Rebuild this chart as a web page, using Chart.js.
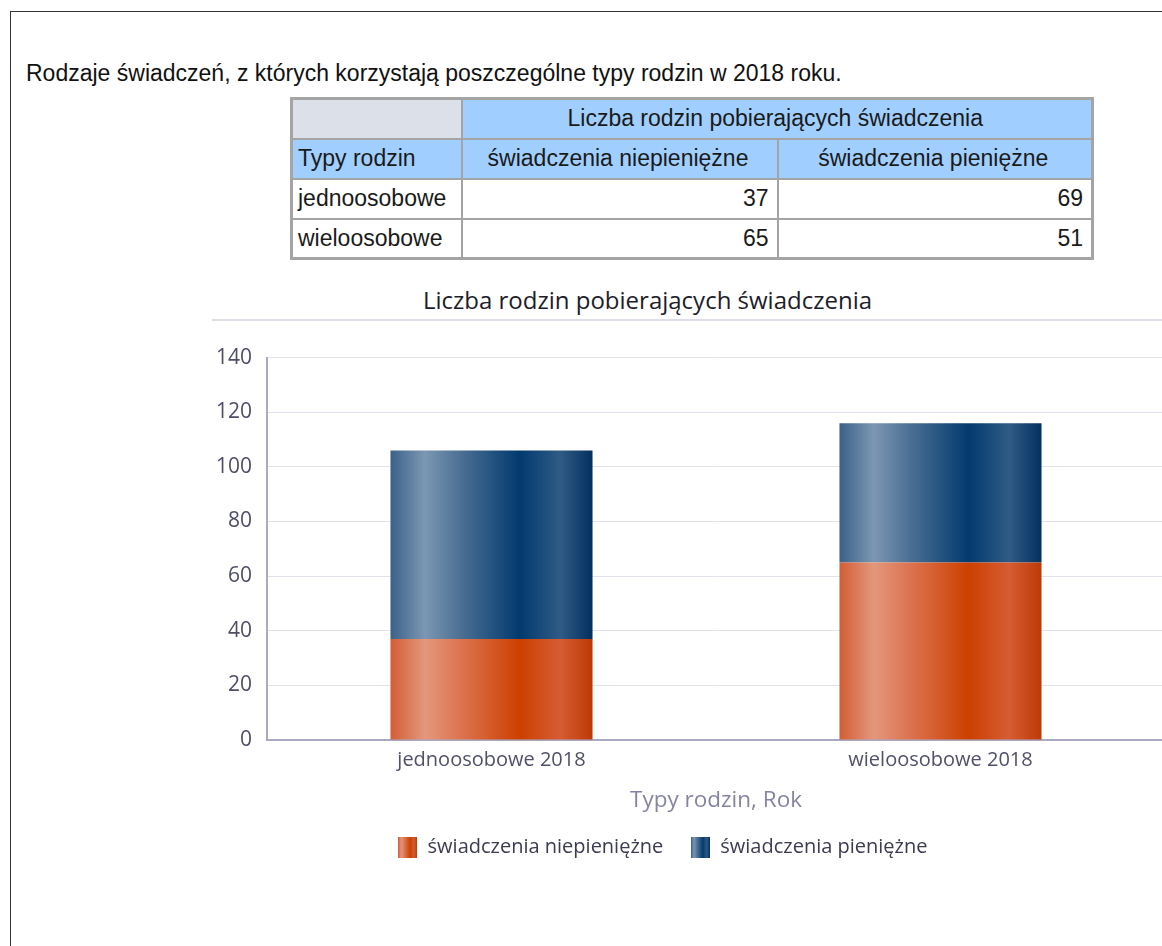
<!DOCTYPE html>
<html lang="pl">
<head>
<meta charset="utf-8">
<title>Liczba rodzin pobierających świadczenia</title>
<script src="https://cdn.jsdelivr.net/npm/chart.js@4.4.1/dist/chart.umd.min.js"></script>
<style>
  html, body { margin: 0; padding: 0; background: #fff; overflow: hidden; }
  body { width: 1162px; height: 946px; position: relative; }
  #frame { position: absolute; left: 10px; top: 11px; width: 2000px; height: 2000px;
           border-left: 1px solid #333; border-top: 1px solid #333; }
  #heading { position: absolute; left: 26px; top: 60px; font: 23px "Liberation Sans", Arial, sans-serif;
             line-height: 26px; color: #111; white-space: nowrap; }
  #tbl { position: absolute; left: 290px; top: 97px; border-collapse: collapse; table-layout: fixed;
         border: 3px solid #a4a4a4; font: 23px "Liberation Sans", Arial, sans-serif; color: #1a1a1a; }
  #tbl td, #tbl th { border: 2px solid #a4a4a4; height: 40px; box-sizing: border-box; padding: 0 8px 0 5px;
                     font-weight: normal; white-space: nowrap; }
  #tbl th { background: #a0cfff; text-align: center; }
  #tbl th.corner { background: #dce0e8; }
  #tbl th.rowhead { text-align: left; }
  #tbl td { background: #fff; text-align: right; }
  #tbl td.label { text-align: left; }
  #chartTitle { position: absolute; left: 212px; top: 286px; width: 871px; text-align: center;
                font: 24px "Open Sans", sans-serif; line-height: 28px; color: #1d1d2b; }
  #sep { position: absolute; left: 212px; top: 319px; width: 950px; height: 2px; background: #dddde7; }
  #chart { position: absolute; left: 160px; top: 330px; }
</style>
</head>
<body>
<div id="frame"></div>
<div id="heading">Rodzaje świadczeń, z których korzystają poszczególne typy rodzin w 2018 roku.</div>
<table id="tbl">
  <colgroup><col style="width:170px"><col style="width:316px"><col style="width:315px"></colgroup>
  <thead></thead>
  <tbody></tbody>
</table>
<div id="chartTitle"></div>
<div id="sep"></div>
<canvas id="chart" width="1005" height="537"></canvas>
<script>
// data
const familyTypes = ["jednoosobowe", "wieloosobowe"];
const categories = ["jednoosobowe 2018", "wieloosobowe 2018"];
const seriesNames = ["świadczenia niepieniężne", "świadczenia pieniężne"];
const nonCash = [37, 65];
const cash = [69, 51];
const yMax = 140;
const yStep = 20;
const chartTitle = "Liczba rodzin pobierających świadczenia";
const rowHeader = "Typy rodzin";
const xTitle = "Typy rodzin, Rok";

// styles
const orangeStops = [[0, "#d35d35"], [0.17, "#e3977c"], [0.35, "#dc7350"], [0.64, "#cc4000"], [0.84, "#d65c33"], [1, "#bd3906"]];
const blueStops = [[0, "#3b6189"], [0.17, "#7c97b3"], [0.35, "#4b6f93"], [0.64, "#023a6f"], [0.84, "#2f5b85"], [1, "#03305f"]];
const barPct = 0.45;

// table
const thead = document.querySelector("#tbl thead");
thead.innerHTML =
  '<tr><th class="corner"></th><th colspan="2">' + chartTitle + "</th></tr>" +
  '<tr><th class="rowhead">' + rowHeader + "</th><th>" + seriesNames[0] + "</th><th>" + seriesNames[1] + "</th></tr>";
const tbody = document.querySelector("#tbl tbody");
familyTypes.forEach((t, i) => {
  tbody.innerHTML += '<tr><td class="label">' + t + "</td><td>" + nonCash[i] + "</td><td>" + cash[i] + "</td></tr>";
});
document.getElementById("chartTitle").textContent = chartTitle;

const barFill = (stops) => (c) => {
  const chart = c.chart;
  const xs = chart.scales.x;
  if (!xs || c.type !== "data") return stops[3][1];
  const center = xs.getPixelForValue(c.dataIndex);
  const half = (xs.width / categories.length) * barPct / 2;
  const g = chart.ctx.createLinearGradient(center - half, 0, center + half, 0);
  stops.forEach(([o, col]) => g.addColorStop(o, col));
  return g;
};

const legendIcon = (stops) => {
  const cv = document.createElement("canvas");
  cv.width = 19;
  cv.height = 21;
  const g = cv.getContext("2d");
  const lg = g.createLinearGradient(0, 0, cv.width, 0);
  stops.forEach(([o, col]) => lg.addColorStop(o, col));
  g.fillStyle = lg;
  g.fillRect(0, 0, cv.width, cv.height);
  return cv;
};
const icons = [legendIcon(orangeStops), legendIcon(blueStops)];

Chart.defaults.font.family = "'Open Sans', 'Noto Sans', sans-serif";

new Chart(document.getElementById("chart"), {
  type: "bar",
  data: {
    labels: categories,
    datasets: [
      { label: seriesNames[0], data: nonCash, backgroundColor: barFill(orangeStops) },
      { label: seriesNames[1], data: cash, backgroundColor: barFill(blueStops) },
    ],
  },
  options: {
    responsive: false,
    animation: false,
    layout: { padding: { top: 27, left: 0, right: 0, bottom: 0 } },
    datasets: { bar: { categoryPercentage: 1, barPercentage: barPct, borderWidth: 0 } },
    scales: {
      x: {
        stacked: true,
        grid: { display: false, drawTicks: false },
        border: { display: true, color: "#a9a9c2", width: 2 },
        ticks: { padding: 8, color: "#50506a", font: { size: 20 } },
        title: { display: true, text: xTitle, color: "#8585a3", font: { size: 22.5 }, padding: { top: 7.5, bottom: -4.5 } },
      },
      y: {
        stacked: true,
        min: 0,
        max: yMax,
        ticks: { stepSize: yStep, padding: 15, color: "#4e4e66", font: { size: 21 } },
        grid: { color: "#e2e2ec", lineWidth: 1, drawTicks: false },
        border: { color: "#a9a9c2", width: 2 },
        afterFit: (s) => { s.width = 107; },
      },
    },
    plugins: {
      title: { display: false },
      tooltip: { enabled: false },
      legend: {
        position: "bottom",
        labels: {
          usePointStyle: true,
          padding: 27,
          color: "#3b3b52",
          font: { size: 20 },
          generateLabels: (chart) => chart.data.datasets.map((ds, i) => ({
            text: ds.label,
            pointStyle: icons[i],
            fillStyle: "transparent",
            strokeStyle: "transparent",
            lineWidth: 0,
            fontColor: "#3b3b52",
            hidden: false,
            datasetIndex: i,
          })),
        },
      },
    },
  },
});
</script>
</body>
</html>
